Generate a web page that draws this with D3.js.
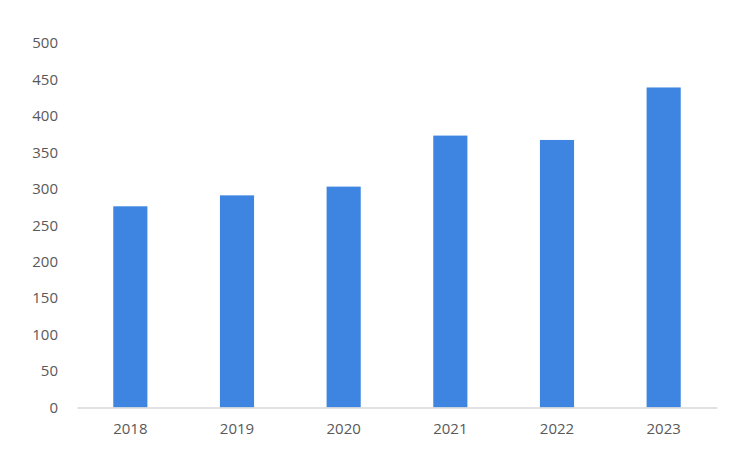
<!DOCTYPE html>
<html>
<head>
<meta charset="utf-8">
<script src="https://cdn.jsdelivr.net/npm/d3@7"></script>
<style>
  html, body { margin: 0; padding: 0; background: #ffffff; }
  svg { display: block; }
  text { font-family: "Open Sans", "Noto Sans", sans-serif; }
</style>
</head>
<body>
<svg id="chart" width="742" height="459"></svg>
<script>
const categories = ["2018", "2019", "2020", "2021", "2022", "2023"];
const values = [276, 291, 303, 373, 367, 439];
const yTicks = [0, 50, 100, 150, 200, 250, 300, 350, 400, 450, 500];

const W = 742, H = 459;
const margin = { top: 43, right: 25, bottom: 51.5, left: 77 };
const svg = d3.select("#chart");

const x = d3.scaleBand()
  .domain(categories)
  .range([margin.left, W - margin.right])
  .paddingInner(0.68)
  .paddingOuter(0.34);

const y = d3.scaleLinear()
  .domain([0, 500])
  .range([H - margin.bottom, margin.top]);

// y axis labels (no line)
const yAxis = d3.axisLeft(y).tickValues(yTicks).tickSize(0).tickPadding(19);
const gy = svg.append("g")
  .attr("transform", `translate(${margin.left},0)`)
  .call(yAxis);
gy.select(".domain").remove();
gy.selectAll("text")
  .attr("fill", "#595959")
  .style("font-size", "15px");

// bars
svg.append("g").selectAll("rect")
  .data(values)
  .join("rect")
  .attr("x", (d, i) => x(categories[i]))
  .attr("width", x.bandwidth())
  .attr("y", d => y(d))
  .attr("height", d => y(0) - y(d))
  .attr("fill", "#3d85e0");

// x axis
const xAxis = d3.axisBottom(x).tickSize(0).tickPadding(16);
const gx = svg.append("g")
  .attr("transform", `translate(0,${y(0)})`)
  .call(xAxis);
gx.select(".domain")
  .attr("stroke", "#d9d9d9")
  .attr("stroke-width", 1.3);
gx.selectAll("text")
  .attr("fill", "#595959")
  .style("font-size", "15px");
</script>
</body>
</html>
